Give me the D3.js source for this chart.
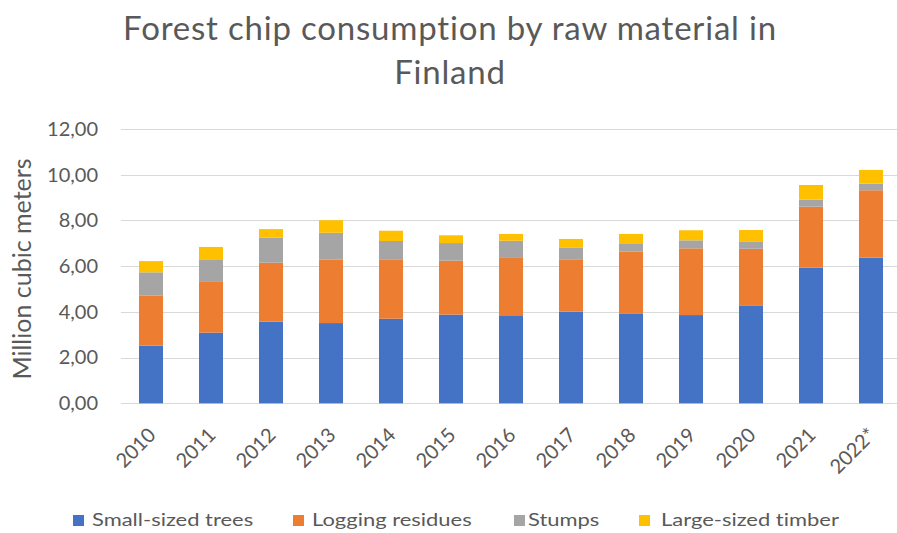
<!DOCTYPE html>
<html>
<head>
<meta charset="utf-8">
<script src="https://cdn.jsdelivr.net/npm/d3@7"></script>
<style>
  html, body { margin: 0; padding: 0; background: #fff; }
  svg { display: block; }
  text { font-family: Lato, "Open Sans", sans-serif; fill: #595959; font-variant-ligatures: none; }
</style>
</head>
<body>
<svg id="chart" width="897" height="533"></svg>
<script>
// Forest chip consumption (million m³) by raw material, 2010–2022*
const years = ["2010","2011","2012","2013","2014","2015","2016","2017","2018","2019","2020","2021","2022*"];
const smallTrees   = [2.52, 3.09, 3.57, 3.51, 3.70, 3.88, 3.85, 4.01, 3.91, 3.86, 4.26, 5.93, 6.37];
const loggingRes   = [2.20, 2.25, 2.58, 2.77, 2.60, 2.36, 2.51, 2.29, 2.72, 2.92, 2.50, 2.67, 2.95];
const stumps       = [1.01, 0.96, 1.09, 1.18, 0.80, 0.77, 0.75, 0.52, 0.34, 0.35, 0.30, 0.31, 0.29];
const largeTimber  = [0.49, 0.54, 0.38, 0.55, 0.45, 0.34, 0.30, 0.37, 0.44, 0.44, 0.52, 0.64, 0.60];
const seriesNames  = ["Small-sized trees", "Logging residues", "Stumps", "Large-sized timber"];
const seriesColors = ["#4472C4", "#ED7D31", "#A5A5A5", "#FFC000"];
const yTicks = [0, 2, 4, 6, 8, 10, 12];

const svg = d3.select("#chart");
const W = 897, H = 533;
const plot = { left: 121, right: 901, top: 129, bottom: 403.3 };

const keys = ["s0", "s1", "s2", "s3"];
const rows = years.map((y, i) => ({
  year: y, s0: smallTrees[i], s1: loggingRes[i], s2: stumps[i], s3: largeTimber[i]
}));
const stacked = d3.stack().keys(keys)(rows);

const x = d3.scaleBand().domain(years).range([plot.left, plot.right])
  .paddingInner(0.6).paddingOuter(0.3);
const y = d3.scaleLinear().domain([0, 12]).range([plot.bottom, plot.top]);

// Title (two lines)
const title = svg.append("text")
  .attr("text-anchor", "middle")
  .style("font-size", "33px")
  .style("letter-spacing", "0.8px");
title.append("tspan").attr("x", 450).attr("y", 40).text("Forest chip consumption by raw material in");
title.append("tspan").attr("x", 450).attr("y", 84).text("Finland");

// Horizontal gridlines
svg.append("g").selectAll("line").data(yTicks).join("line")
  .attr("x1", plot.left).attr("x2", W)
  .attr("y1", d => Math.round(y(d)) + 0.5).attr("y2", d => Math.round(y(d)) + 0.5)
  .attr("stroke", "#d9d9d9").attr("stroke-width", 1);

// Y axis labels
const yAxis = d3.axisLeft(y).tickValues(yTicks)
  .tickFormat(d => d3.format(".2f")(d).replace(".", ","))
  .tickSize(0).tickPadding(0);
const yg = svg.append("g").attr("transform", "translate(98,0)").call(yAxis);
yg.select(".domain").remove();
yg.selectAll("text").style("font-size", "20px").style("font-family", "Lato, 'Open Sans', sans-serif")
  .attr("fill", "#595959");

// Y axis title
svg.append("text")
  .attr("transform", "translate(31,269) rotate(-90)")
  .attr("text-anchor", "middle")
  .style("font-size", "25px")
  .text("Million cubic meters");

// Stacked bars
svg.append("g").selectAll("g").data(stacked).join("g")
  .attr("fill", (d, i) => seriesColors[i])
  .selectAll("rect").data(d => d).join("rect")
  .attr("x", d => x(d.data.year))
  .attr("width", x.bandwidth())
  .attr("y", d => y(d[1]))
  .attr("height", d => y(d[0]) - y(d[1]));

// X axis labels, rotated 45°
const xAxis = d3.axisBottom(x).tickSize(0).tickPadding(0);
const xg = svg.append("g").attr("transform", `translate(0,${plot.bottom})`).call(xAxis);
xg.select(".domain").remove();
xg.selectAll("text")
  .style("font-size", "20px").style("font-family", "Lato, 'Open Sans', sans-serif")
  .attr("fill", "#595959")
  .attr("text-anchor", "end")
  .attr("x", 0).attr("y", 0).attr("dy", 0)
  .attr("transform", "translate(6,33) rotate(-45)");

// Legend
const swatchX = [73, 293, 514, 639];
const labelX  = [92, 312, 528, 661];
const legend = svg.append("g");
legend.selectAll("rect").data(seriesNames).join("rect")
  .attr("x", (d, i) => swatchX[i]).attr("y", 515)
  .attr("width", 11).attr("height", 11)
  .attr("fill", (d, i) => seriesColors[i]);
legend.selectAll("text").data(seriesNames).join("text")
  .attr("transform", (d, i) => `translate(${labelX[i]},526) scale(1.22,1)`)
  .style("font-size", "18px")
  .text(d => d);
</script>
</body>
</html>
